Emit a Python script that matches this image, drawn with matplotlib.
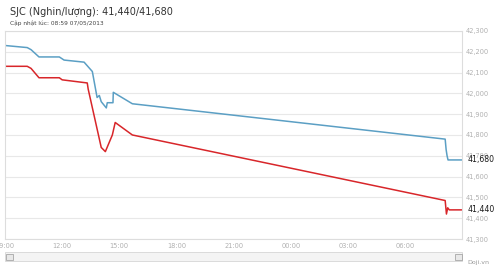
import matplotlib
matplotlib.use("Agg")
import matplotlib.pyplot as plt
import matplotlib.dates as mdates
from matplotlib.patches import Rectangle
import pandas as pd

# Sell price (blue) and buy price (red), thousand VND / luong
sell_times = ["2013-05-06 09:00", "2013-05-06 10:10", "2013-05-06 10:22", "2013-05-06 10:47",
              "2013-05-06 11:51", "2013-05-06 12:06", "2013-05-06 13:09", "2013-05-06 13:35",
              "2013-05-06 13:50", "2013-05-06 13:57", "2013-05-06 14:03", "2013-05-06 14:19",
              "2013-05-06 14:22", "2013-05-06 14:40", "2013-05-06 14:41", "2013-05-06 15:41",
              "2013-05-07 08:06", "2013-05-07 08:09", "2013-05-07 08:12", "2013-05-07 08:15",
              "2013-05-07 08:59"]
sell_values = [42230, 42220, 42210, 42175, 42175, 42160, 42150, 42105, 41980, 41990, 41960,
               41930, 41955, 41955, 42005, 41950, 41780, 41730, 41700, 41680, 41680]

buy_times = ["2013-05-06 09:00", "2013-05-06 10:10", "2013-05-06 10:22", "2013-05-06 10:47",
             "2013-05-06 11:51", "2013-05-06 12:00", "2013-05-06 13:19", "2013-05-06 13:22",
             "2013-05-06 14:03", "2013-05-06 14:16", "2013-05-06 14:38", "2013-05-06 14:47",
             "2013-05-06 15:41", "2013-05-07 08:06", "2013-05-07 08:10", "2013-05-07 08:14",
             "2013-05-07 08:19", "2013-05-07 08:59"]
buy_values = [42130, 42130, 42120, 42075, 42075, 42065, 42050, 42020, 41740, 41720, 41800,
              41860, 41800, 41485, 41420, 41450, 41440, 41440]

y_ticks = [41300, 41400, 41500, 41600, 41700, 41800, 41900, 42000, 42100, 42200, 42300]
x_ticks = ["2013-05-06 09:00", "2013-05-06 12:00", "2013-05-06 15:00", "2013-05-06 18:00",
           "2013-05-06 21:00", "2013-05-07 00:00", "2013-05-07 03:00", "2013-05-07 06:00"]

title = "SJC (Nghin/lượng): 41,440/41,680"
subtitle = "Cập nhật lúc: 08:59 07/05/2013"

sell_t = pd.to_datetime(sell_times)
buy_t = pd.to_datetime(buy_times)

fig = plt.figure(figsize=(5, 2.69), dpi=100)
ax = fig.add_axes([0.01, 0.1115, 0.914, 0.7735])

ax.plot(sell_t, sell_values, color="#5b9fc4", lw=1.1)
ax.plot(buy_t, buy_values, color="#d8262a", lw=1.1)

ax.set_xlim(pd.Timestamp("2013-05-06 09:00"), pd.Timestamp("2013-05-07 08:59"))
ax.set_ylim(41300, 42300)
ax.set_yticks(y_ticks)
ax.set_yticklabels([f"{v:,}" for v in y_ticks])
ax.yaxis.tick_right()
ax.set_xticks(pd.to_datetime(x_ticks))
ax.xaxis.set_major_formatter(mdates.DateFormatter("%H:%M"))
ax.tick_params(length=0, labelsize=4.8, labelcolor="#b0b0b0", pad=3)
ax.grid(axis="y", color="#e8e8e8", lw=0.8)
ax.set_axisbelow(True)
for s in ax.spines.values():
    s.set_color("#dddddd")
    s.set_linewidth(0.8)

# last values shown at the right edge
ax.text(1.012, 41680, f"{sell_values[-1]:,}", transform=ax.get_yaxis_transform(),
        va="center", ha="left", fontsize=5.6, color="#1a1a1a")
ax.text(1.012, 41440, f"{buy_values[-1]:,}", transform=ax.get_yaxis_transform(),
        va="center", ha="left", fontsize=5.6, color="#1a1a1a")

fig.text(0.02, 0.955, title, fontsize=7, color="#333333", va="center")
fig.text(0.02, 0.913, subtitle, fontsize=4.2, color="#444444", va="center")

# scrollbar under the chart
fig.patches.append(Rectangle((0.01, 0.028), 0.914, 0.035, transform=fig.transFigure,
                             facecolor="#f4f4f4", edgecolor="#d6d6d6", lw=0.6))
for bx in (0.012, 0.91):
    fig.patches.append(Rectangle((bx, 0.034), 0.013, 0.022, transform=fig.transFigure,
                                 facecolor="#e8e8e8", edgecolor="#999999", lw=0.5))
fig.text(0.956, 0.025, "Doji.vn", fontsize=4.5, color="#999999", ha="center", va="center")

fig.savefig("out.png", dpi=100, facecolor="white")
